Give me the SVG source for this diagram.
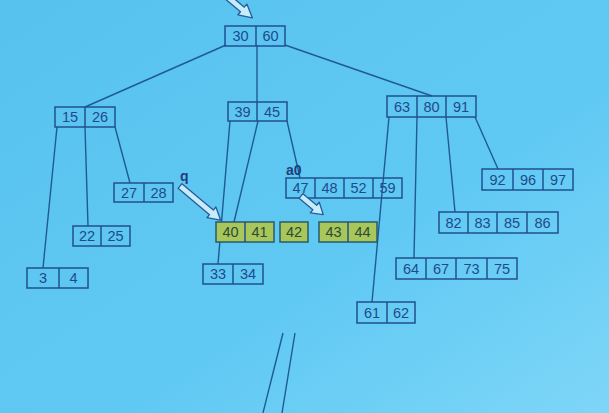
<svg xmlns="http://www.w3.org/2000/svg" width="609" height="413" viewBox="0 0 609 413">
<defs>
<linearGradient id="bg" x1="0" y1="0" x2="1" y2="1">
<stop offset="0" stop-color="#58c2ef"/>
<stop offset="0.6" stop-color="#60c9f3"/>
<stop offset="1" stop-color="#7ed6f8"/>
</linearGradient>
<style>
.box{fill:none;stroke:#21508f;stroke-width:1.5}
.grn{fill:#a9c65a;stroke:#2b5a6a;stroke-width:1.5}
.div{stroke:#21508f;stroke-width:1.5}
.t{font-family:"Liberation Sans",Arial,sans-serif;font-size:14.5px;fill:#1f4a8c;text-anchor:middle}
.tg{font-family:"Liberation Sans",Arial,sans-serif;font-size:14.5px;fill:#2a4a3a;text-anchor:middle}
.lbl{font-family:"Liberation Sans",Arial,sans-serif;font-size:14px;font-weight:bold;fill:#1f3f7a}
.con{stroke:#1f5a94;stroke-width:1.4;fill:none}
.arr{fill:#c4ecfa;stroke:#2a5a9a;stroke-width:1.3;stroke-linejoin:round}
</style>
</defs>
<rect width="609" height="413" fill="url(#bg)"/>

<g id="connectors">
<line class="con" x1="226" y1="45" x2="85" y2="107"/>
<line class="con" x1="257" y1="45" x2="257" y2="102"/>
<line class="con" x1="285" y1="45" x2="432" y2="96"/>
<line class="con" x1="57" y1="127" x2="43" y2="268"/>
<line class="con" x1="85" y1="127" x2="88" y2="226"/>
<line class="con" x1="115" y1="127" x2="130" y2="183"/>
<line class="con" x1="230" y1="121" x2="218" y2="264"/>
<line class="con" x1="258" y1="121" x2="234" y2="222"/>
<line class="con" x1="287" y1="121" x2="300" y2="178"/>
<line class="con" x1="389" y1="117" x2="372" y2="302"/>
<line class="con" x1="417" y1="117" x2="414" y2="258"/>
<line class="con" x1="446" y1="117" x2="455" y2="212"/>
<line class="con" x1="475" y1="117" x2="498" y2="169"/>
<line class="con" x1="283" y1="333" x2="263" y2="413"/>
<line class="con" x1="295" y1="333" x2="282" y2="413"/>
</g>

<g id="node-30-60">
<rect class="box" x="225" y="26" width="60" height="20"/>
<line class="div" x1="256" y1="26" x2="256" y2="46"/>
<text class="t" x="240.5" y="41">30</text><text class="t" x="270.5" y="41">60</text>
</g>
<g id="node-39-45">
<rect class="box" x="228" y="102" width="59" height="19"/>
<line class="div" x1="257" y1="102" x2="257" y2="121"/>
<text class="t" x="242.5" y="116.5">39</text><text class="t" x="272" y="116.5">45</text>
</g>
<g id="node-15-26">
<rect class="box" x="55" y="107" width="60" height="20"/>
<line class="div" x1="85" y1="107" x2="85" y2="127"/>
<text class="t" x="70" y="122">15</text><text class="t" x="100" y="122">26</text>
</g>
<g id="node-63-80-91">
<rect class="box" x="387" y="96" width="89" height="21"/>
<line class="div" x1="417" y1="96" x2="417" y2="117"/>
<line class="div" x1="446" y1="96" x2="446" y2="117"/>
<text class="t" x="402" y="111.5">63</text><text class="t" x="431.5" y="111.5">80</text><text class="t" x="461" y="111.5">91</text>
</g>
<g id="node-27-28">
<rect class="box" x="114" y="183" width="59" height="19"/>
<line class="div" x1="144" y1="183" x2="144" y2="202"/>
<text class="t" x="129" y="197.5">27</text><text class="t" x="158.5" y="197.5">28</text>
</g>
<g id="node-22-25">
<rect class="box" x="73" y="226" width="57" height="20"/>
<line class="div" x1="101" y1="226" x2="101" y2="246"/>
<text class="t" x="87" y="241">22</text><text class="t" x="115.5" y="241">25</text>
</g>
<g id="node-3-4">
<rect class="box" x="27" y="268" width="61" height="20"/>
<line class="div" x1="59" y1="268" x2="59" y2="288"/>
<text class="t" x="43" y="283">3</text><text class="t" x="73.5" y="283">4</text>
</g>
<g id="node-40-41">
<rect class="grn" x="216" y="222" width="58" height="20"/>
<line class="div" x1="245" y1="222" x2="245" y2="242"/>
<text class="tg" x="230.5" y="237">40</text><text class="tg" x="259.5" y="237">41</text>
</g>
<g id="node-42">
<rect class="grn" x="280" y="222" width="28" height="20"/>
<text class="tg" x="294" y="237">42</text>
</g>
<g id="node-43-44">
<rect class="grn" x="319" y="222" width="58" height="20"/>
<line class="div" x1="348" y1="222" x2="348" y2="242"/>
<text class="tg" x="333.5" y="237">43</text><text class="tg" x="362.5" y="237">44</text>
</g>
<g id="node-33-34">
<rect class="box" x="203" y="264" width="60" height="20"/>
<line class="div" x1="233" y1="264" x2="233" y2="284"/>
<text class="t" x="218" y="279">33</text><text class="t" x="248" y="279">34</text>
</g>
<g id="node-47-48-52-59">
<rect class="box" x="286" y="178" width="116" height="20"/>
<line class="div" x1="315" y1="178" x2="315" y2="198"/>
<line class="div" x1="344" y1="178" x2="344" y2="198"/>
<line class="div" x1="373" y1="178" x2="373" y2="198"/>
<text class="t" x="300.5" y="193">47</text><text class="t" x="329.5" y="193">48</text><text class="t" x="358.5" y="193">52</text><text class="t" x="387.5" y="193">59</text>
</g>
<g id="node-92-96-97">
<rect class="box" x="482" y="169" width="91" height="21"/>
<line class="div" x1="513" y1="169" x2="513" y2="190"/>
<line class="div" x1="543" y1="169" x2="543" y2="190"/>
<text class="t" x="497.5" y="184.5">92</text><text class="t" x="528" y="184.5">96</text><text class="t" x="558" y="184.5">97</text>
</g>
<g id="node-82-83-85-86">
<rect class="box" x="439" y="212" width="119" height="21"/>
<line class="div" x1="468" y1="212" x2="468" y2="233"/>
<line class="div" x1="497" y1="212" x2="497" y2="233"/>
<line class="div" x1="527" y1="212" x2="527" y2="233"/>
<text class="t" x="453.5" y="227.5">82</text><text class="t" x="482.5" y="227.5">83</text><text class="t" x="512" y="227.5">85</text><text class="t" x="542.5" y="227.5">86</text>
</g>
<g id="node-64-67-73-75">
<rect class="box" x="396" y="258" width="121" height="21"/>
<line class="div" x1="426" y1="258" x2="426" y2="279"/>
<line class="div" x1="456" y1="258" x2="456" y2="279"/>
<line class="div" x1="487" y1="258" x2="487" y2="279"/>
<text class="t" x="411" y="273.5">64</text><text class="t" x="441" y="273.5">67</text><text class="t" x="471.5" y="273.5">73</text><text class="t" x="502" y="273.5">75</text>
</g>
<g id="node-61-62">
<rect class="box" x="357" y="302" width="58" height="21"/>
<line class="div" x1="387" y1="302" x2="387" y2="323"/>
<text class="t" x="372" y="317.5">61</text><text class="t" x="401" y="317.5">62</text>
</g>

<g id="pointers">
<path class="arr" transform="translate(224,-6) rotate(40)" d="M0,-3 L24,-3 L24,-7 L37,0 L24,7 L24,3 L0,3 Z"/>
<text class="lbl" x="180" y="181">q</text>
<path class="arr" transform="translate(180,186) rotate(40)" d="M0,-3 L41,-3 L41,-7 L53,0 L41,7 L41,3 L0,3 Z"/>
<text class="lbl" x="286" y="175">a0</text>
<path class="arr" transform="translate(301,196) rotate(40)" d="M0,-3 L18,-3 L18,-7 L29,0 L18,7 L18,3 L0,3 Z"/>
</g>
</svg>
